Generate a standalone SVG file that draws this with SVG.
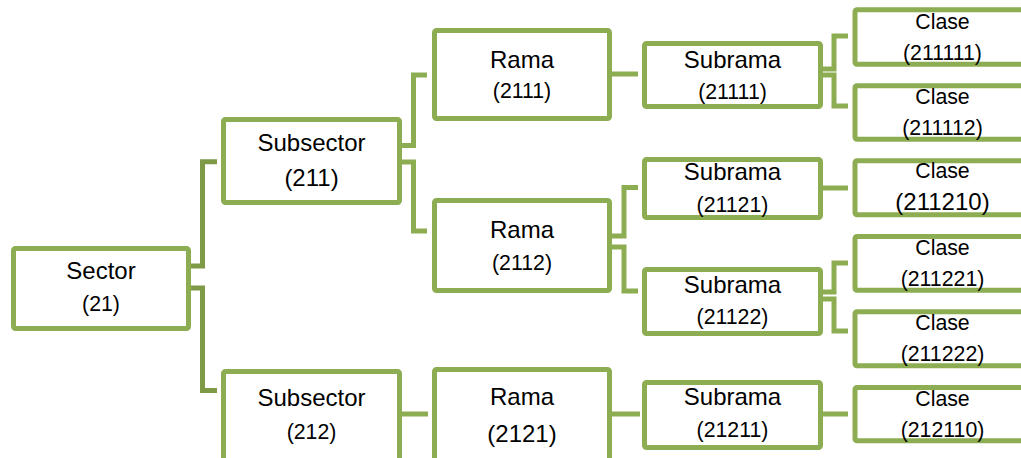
<svg xmlns="http://www.w3.org/2000/svg" width="1021" height="458" viewBox="0 0 1021 458">
<style>
.box{fill:#fff;stroke:#8dad52;stroke-width:5}
.c{fill:none;stroke:#8dad52;stroke-width:5;stroke-linejoin:miter}
.c0{fill:none;stroke:#7e9a47;stroke-width:5;stroke-linejoin:miter}
text{font-family:"Liberation Sans",Arial,sans-serif;fill:#000;text-anchor:middle}
.l{font-size:24px}
.s{font-size:21.3px}
</style>
<rect width="1021" height="458" fill="#fff"/>
<g id="connectors">
<path class="c0" d="M189 266 H202.5 V161.7 H217"/>
<path class="c0" d="M189 288 H202.5 V390.5 H217"/>
<path class="c" d="M400 145.5 H413.5 V75 H427"/>
<path class="c" d="M400 162 H413.5 V231 H427"/>
<path class="c" d="M610 74 H638"/>
<path class="c" d="M610 236 H624 V187.5 H638"/>
<path class="c" d="M610 247 H624 V291 H638"/>
<path class="c" d="M400 414 H428"/>
<path class="c" d="M610 414 H640"/>
<path class="c" d="M821 69 H834 V36 H848"/>
<path class="c" d="M821 75 H834 V106 H848"/>
<path class="c" d="M821 188 H848"/>
<path class="c" d="M821 292 H834 V263 H848"/>
<path class="c" d="M821 299 H834 V331 H848"/>
<path class="c" d="M821 414 H848"/>
</g>
<g id="sector"><rect class="box" x="13.5" y="248.5" width="175" height="80" rx="2"/><text class="l" x="101" y="279.3">Sector</text><text class="s" x="101" y="310.7">(21)</text></g>
<g id="subsector211"><rect class="box" x="223.5" y="119.5" width="176" height="83" rx="2"/><text class="l" x="311.5" y="150.7">Subsector</text><text class="l" x="311.5" y="185.7">(211)</text></g>
<g id="subsector212"><rect class="box" x="223.5" y="371.5" width="176" height="100" rx="2"/><text class="l" x="311.5" y="406">Subsector</text><text class="s" x="311.5" y="439">(212)</text></g>
<g id="rama2111"><rect class="box" x="434.5" y="30.5" width="175" height="88" rx="2"/><text class="l" x="522" y="67.7">Rama</text><text class="s" x="522" y="98.3">(2111)</text></g>
<g id="rama2112"><rect class="box" x="434.5" y="200.5" width="175" height="90" rx="2"/><text class="l" x="522" y="238.3">Rama</text><text class="s" x="522" y="270">(2112)</text></g>
<g id="rama2121"><rect class="box" x="434.5" y="369.5" width="175" height="100" rx="2"/><text class="l" x="522" y="405">Rama</text><text class="l" x="522" y="441.7">(2121)</text></g>
<g id="subrama21111"><rect class="box" x="644.5" y="43.5" width="176" height="63" rx="2"/><text class="l" x="732.5" y="67.7">Subrama</text><text class="s" x="732.5" y="99">(21111)</text></g>
<g id="subrama21121"><rect class="box" x="644.5" y="159.5" width="176" height="58" rx="2"/><text class="l" x="732.5" y="180">Subrama</text><text class="s" x="732.5" y="211.7">(21121)</text></g>
<g id="subrama21122"><rect class="box" x="644.5" y="269.5" width="176" height="64" rx="2"/><text class="l" x="732.5" y="292.7">Subrama</text><text class="s" x="732.5" y="324.3">(21122)</text></g>
<g id="subrama21211"><rect class="box" x="644.5" y="382.5" width="176" height="65" rx="2"/><text class="l" x="732.5" y="405">Subrama</text><text class="s" x="732.5" y="436.7">(21211)</text></g>
<g id="clase211111"><rect class="box" x="855" y="9.8" width="200" height="54.4" rx="2"/><text class="s" x="942.5" y="29.3">Clase</text><text class="s" x="942.5" y="60">(211111)</text></g>
<g id="clase211112"><rect class="box" x="855" y="85.8" width="200" height="53.4" rx="2"/><text class="s" x="942.5" y="104">Clase</text><text class="s" x="942.5" y="135">(211112)</text></g>
<g id="clase211210"><rect class="box" x="855" y="160.8" width="200" height="54" rx="2"/><text class="s" x="942.5" y="178.3">Clase</text><text class="l" x="942.5" y="210">(211210)</text></g>
<g id="clase211221"><rect class="box" x="855" y="236.5" width="200" height="53.7" rx="2"/><text class="s" x="942.5" y="255">Clase</text><text class="s" x="942.5" y="286">(211221)</text></g>
<g id="clase211222"><rect class="box" x="855" y="311.8" width="200" height="54" rx="2"/><text class="s" x="942.5" y="330">Clase</text><text class="s" x="942.5" y="361">(211222)</text></g>
<g id="clase212110"><rect class="box" x="855" y="387.5" width="200" height="53.3" rx="2"/><text class="s" x="942.5" y="405.7">Clase</text><text class="s" x="942.5" y="437.3">(212110)</text></g>
</svg>
